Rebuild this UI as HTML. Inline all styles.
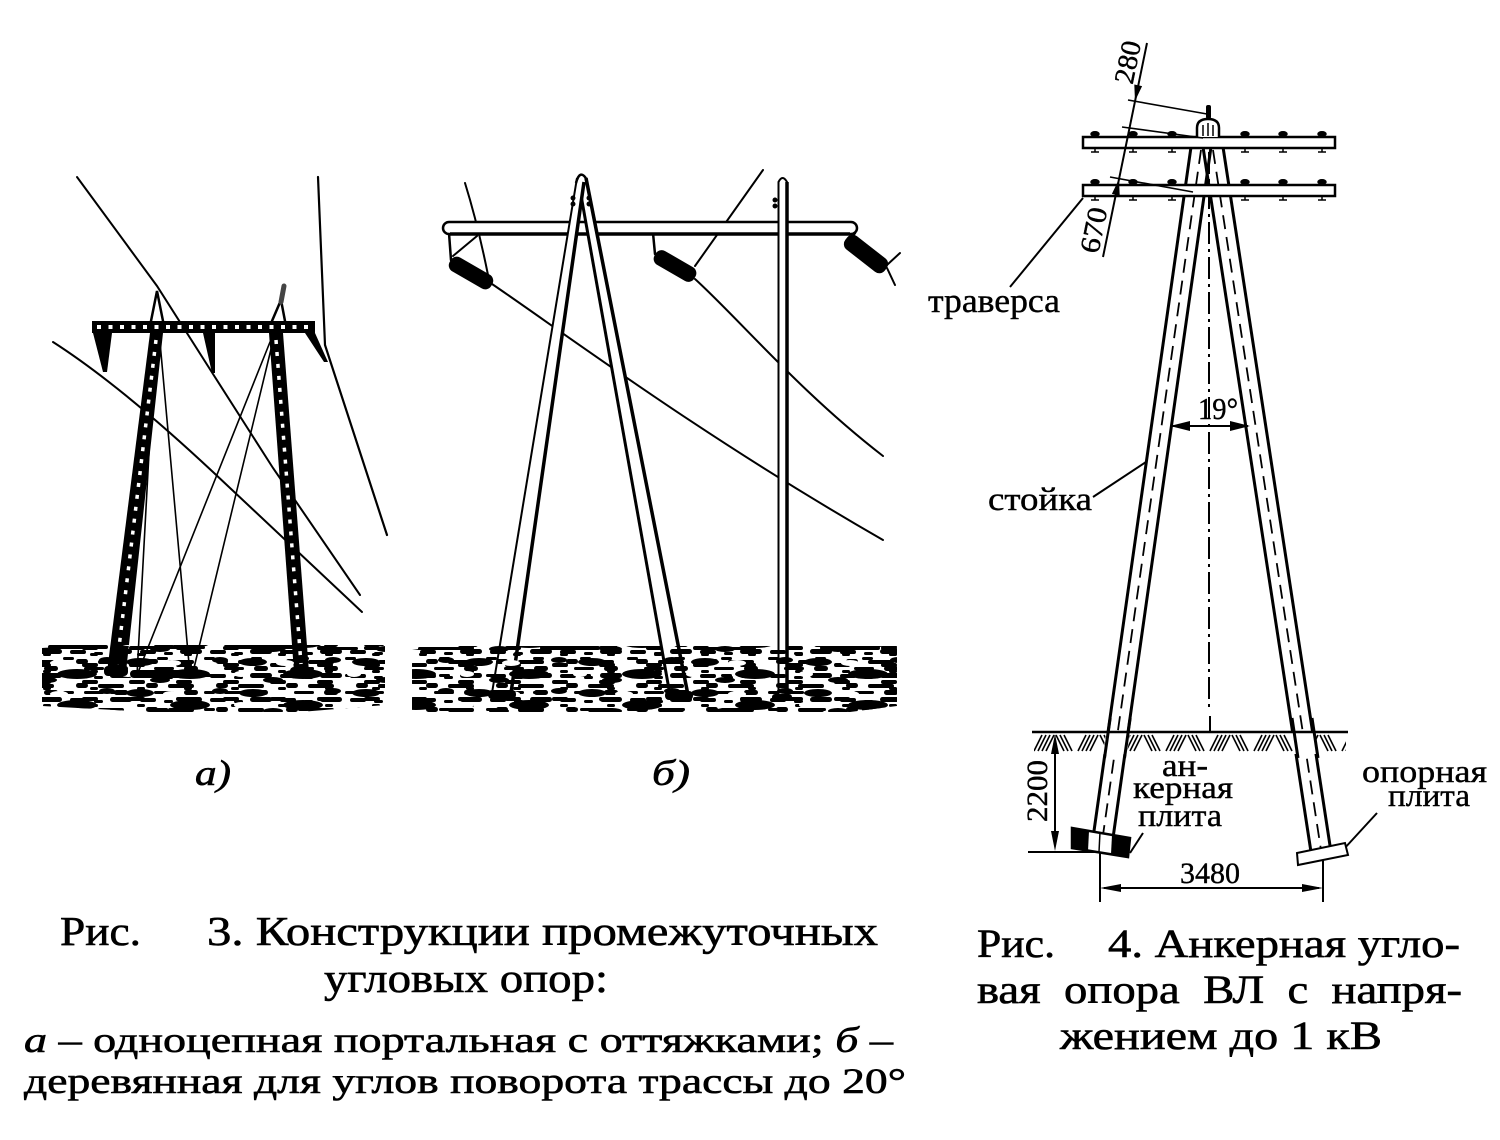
<!DOCTYPE html>
<html><head><meta charset="utf-8">
<style>
html,body{margin:0;padding:0;background:#fff;overflow:hidden}
svg{display:block}
text{font-family:"Liberation Serif","Times New Roman",serif;fill:#000}
.pre{white-space:pre}
.cap{stroke:#000;stroke-width:0.6}
.lbl{stroke:#000;stroke-width:0.4}
</style>
</head><body>
<svg xmlns="http://www.w3.org/2000/svg" width="1500" height="1140" viewBox="0 0 1500 1140">
<rect width="1500" height="1140" fill="#fff"/>
<defs>
 <pattern id="g1" width="70" height="24" patternUnits="userSpaceOnUse">
  <g fill="#000">
  <rect x="0" y="2" width="16" height="4" rx="2"/>
  <rect x="24" y="4" width="9" height="3" rx="1.5"/>
  <rect x="40" y="1" width="22" height="5" rx="2.5"/>
  <rect x="6" y="11" width="12" height="5" rx="2.5"/>
  <rect x="28" y="12" width="26" height="4" rx="2"/>
  <rect x="14" y="19" width="20" height="3" rx="1.5"/>
  <rect x="44" y="18" width="14" height="5" rx="2.5"/>
  </g>
 </pattern>
 <pattern id="g2" x="13" y="5" width="47" height="17" patternUnits="userSpaceOnUse">
  <g fill="#000">
  <rect x="3" y="6" width="11" height="3" rx="1.5"/>
  <rect x="22" y="12" width="16" height="4" rx="2"/>
  <rect x="30" y="2" width="8" height="3" rx="1.5"/>
  </g>
 </pattern>
 <pattern id="g3" x="7" y="3" width="113" height="31" patternUnits="userSpaceOnUse">
  <g fill="#000">
  <ellipse cx="20" cy="8" rx="14" ry="4"/>
  <ellipse cx="70" cy="20" rx="20" ry="5"/>
  <ellipse cx="100" cy="6" rx="8" ry="3"/>
  <ellipse cx="40" cy="26" rx="10" ry="3"/>
  </g>
  <g fill="#fff">
  <ellipse cx="52" cy="9" rx="9" ry="3"/>
  <ellipse cx="8" cy="20" rx="7" ry="3"/>
  </g>
 </pattern>
 <pattern id="hatch" x="1032" y="733" width="44" height="20" patternUnits="userSpaceOnUse">
  <g stroke="#000" stroke-width="1.6">
  <line x1="2" y1="18" x2="10" y2="2"/><line x1="6" y1="18" x2="14" y2="2"/>
  <line x1="10" y1="18" x2="18" y2="2"/><line x1="14" y1="18" x2="22" y2="2"/>
  <line x1="24" y1="2" x2="32" y2="18"/><line x1="28" y1="2" x2="36" y2="18"/>
  <line x1="32" y1="2" x2="40" y2="18"/>
  </g>
 </pattern>
 <clipPath id="ca"><polygon points="42,648 120,645 385,645 385,705 300,712 150,712 42,706"/></clipPath>
 <clipPath id="cb"><polygon points="412,650 440,646 897,646 897,706 850,712 412,712"/></clipPath>
</defs>

<!-- ================= FIGURE a ================= -->
<g stroke="#000" fill="none" stroke-linecap="round">
 <polyline points="77,177 157,286 213,374 273,468 360,595" stroke-width="2"/>
 <path d="M53,342 Q120,385 213,472 T362,612" stroke-width="2"/>
 <polyline points="318,177 325,345 387,535" stroke-width="2.2"/>
 <line x1="155" y1="342" x2="137" y2="675" stroke-width="1.6"/>
 <line x1="160" y1="342" x2="190" y2="675" stroke-width="1.6"/>
 <line x1="270" y1="342" x2="137" y2="675" stroke-width="1.6"/>
 <line x1="272" y1="345" x2="193" y2="672" stroke-width="1.6"/>
 <polyline points="151,321 157,291 163,321" stroke-width="2.5"/>
 <polyline points="272,321 281,300 285,321" stroke-width="2.5"/>
 <line x1="281" y1="302" x2="284" y2="286" stroke="#444" stroke-width="5"/>
</g>
<polygon points="150,333 163,333 126,672 107,672" fill="#000"/>
<polygon points="269,333 283,333 309,672 294,672" fill="#000"/>
<line x1="156" y1="340" x2="117" y2="664" stroke="#fff" stroke-width="3.5" stroke-dasharray="4 8"/>
<line x1="276" y1="340" x2="301" y2="664" stroke="#fff" stroke-width="3.5" stroke-dasharray="4 8"/>
<rect x="92" y="321" width="223" height="12" fill="#000"/>
<line x1="97" y1="327" x2="312" y2="327" stroke="#fff" stroke-width="4" stroke-dasharray="4 7.5"/>
<polygon points="93,333 112,333 107,372 103,372" fill="#000"/>
<polygon points="203,333 215,333 215,373 212,373" fill="#000"/>
<polygon points="305,333 315,333 328,362 324,362" fill="#000"/>
<g clip-path="url(#ca)">
 <rect x="40" y="640" width="350" height="75" fill="url(#g1)"/>
 <rect x="40" y="640" width="350" height="75" fill="url(#g2)"/>
 <rect x="40" y="640" width="350" height="75" fill="url(#g3)"/>
</g>
<g fill="#000">
 <rect x="48" y="645" width="60" height="4" rx="2"/>
 <rect x="135" y="646" width="70" height="3" rx="1.5"/>
 <rect x="232" y="645" width="65" height="4" rx="2"/>
 <rect x="318" y="647" width="40" height="3" rx="1.5"/>
 <rect x="104" y="666" width="24" height="10" rx="4"/>
 <rect x="130" y="670" width="70" height="8" rx="4"/>
 <rect x="290" y="667" width="24" height="10" rx="4"/>
</g>
<text class="cap" x="195" y="785" font-style="italic" font-size="36" textLength="36" lengthAdjust="spacingAndGlyphs">а)</text>

<!-- ================= FIGURE b ================= -->
<g stroke="#000" fill="none" stroke-linecap="round" stroke-width="2">
 <path d="M465,183 Q478,225 488,275"/>
 <line x1="453" y1="256" x2="477" y2="236"/>
 <path d="M492,284 C560,330 700,435 883,540"/>
 <line x1="695" y1="266" x2="763" y2="170"/>
 <path d="M695,279 C740,320 800,392 883,456"/>
 <line x1="887" y1="265" x2="900" y2="253"/>
 <line x1="887" y1="268" x2="895" y2="285"/>
 <line x1="449" y1="233" x2="451" y2="260" stroke-width="2.5"/>
 <line x1="653" y1="233" x2="655" y2="254" stroke-width="2.5"/>
 <line x1="855" y1="233" x2="848" y2="242" stroke-width="2.5"/>
</g>
<rect x="443" y="222" width="414" height="12" rx="6" fill="#fff" stroke="#000" stroke-width="2.5"/>
<line x1="450" y1="234" x2="850" y2="234" stroke="#000" stroke-width="3.5"/>
<rect x="-24" y="-8" width="48" height="16" rx="7" fill="#000" transform="translate(471,273) rotate(30)"/>
<rect x="-23" y="-8" width="46" height="16" rx="7" fill="#000" transform="translate(675,266) rotate(30)"/>
<rect x="-25" y="-8.5" width="50" height="17" rx="7" fill="#000" transform="translate(866,254) rotate(38)"/>
<polygon points="579,180 586,178 688,695 670,695" fill="#fff"/>
<line x1="579" y1="184" x2="670" y2="695" stroke="#000" stroke-width="3"/>
<line x1="586" y1="178" x2="688" y2="695" stroke="#000" stroke-width="3.5"/>
<polygon points="577,178 584,180 511,693 492,693" fill="#fff"/>
<line x1="577" y1="178" x2="492" y2="693" stroke="#000" stroke-width="2"/>
<line x1="584" y1="182" x2="511" y2="693" stroke="#000" stroke-width="3.5"/>
<path d="M576,183 Q580,168 587,180" fill="none" stroke="#000" stroke-width="2.5"/>
<g fill="#000">
 <circle cx="573" cy="198" r="2.5"/><circle cx="573" cy="204" r="2.5"/>
 <circle cx="589" cy="198" r="2.5"/><circle cx="589" cy="204" r="2.5"/>
 <circle cx="775" cy="200" r="2.5"/><circle cx="775" cy="206" r="2.5"/>
</g>
<path d="M778,696 V182 Q782.5,174 787,182 V696 Z" fill="#fff"/>
<path d="M778.5,696 V182 Q782.5,174 787,182 V696" fill="none" stroke="#000" stroke-width="2"/>
<line x1="787" y1="182" x2="787" y2="696" stroke="#000" stroke-width="3.5"/>
<g clip-path="url(#cb)">
 <rect x="410" y="640" width="490" height="75" fill="url(#g1)"/>
 <rect x="410" y="640" width="490" height="75" fill="url(#g2)"/>
 <rect x="410" y="640" width="490" height="75" fill="url(#g3)"/>
</g>
<g fill="#000">
 <rect x="418" y="647" width="50" height="3" rx="1.5"/>
 <rect x="540" y="646" width="60" height="4" rx="2"/>
 <rect x="700" y="647" width="55" height="3" rx="1.5"/>
 <rect x="820" y="646" width="60" height="4" rx="2"/>
 <rect x="488" y="690" width="28" height="9" rx="4"/>
 <rect x="665" y="691" width="28" height="9" rx="4"/>
 <rect x="772" y="694" width="20" height="7" rx="3"/>
</g>
<text class="cap" x="652" y="785" font-style="italic" font-size="36" textLength="38" lengthAdjust="spacingAndGlyphs">б)</text>

<!-- ================= FIGURE 4 ================= -->
<g stroke="#000" fill="none">
 <line x1="1191" y1="147" x2="1093" y2="838" stroke-width="3"/>
 <line x1="1211" y1="147" x2="1113" y2="838" stroke-width="3"/>
 <line x1="1201" y1="150" x2="1103" y2="835" stroke-width="1.8" stroke-dasharray="14 8"/>
 <line x1="1203" y1="147" x2="1311" y2="852" stroke-width="3"/>
 <line x1="1223" y1="147" x2="1331" y2="852" stroke-width="3"/>
 <line x1="1213" y1="150" x2="1321" y2="850" stroke-width="1.8" stroke-dasharray="14 8"/>
 <line x1="1209" y1="152" x2="1209" y2="712" stroke-width="2" stroke-dasharray="22 5 3 5"/>
 <line x1="1210" y1="716" x2="1210" y2="732" stroke-width="2"/>
</g>
<g fill="#000" stroke="#000" stroke-width="1.5">
 <ellipse cx="1095" cy="134" rx="4" ry="2.2"/><line x1="1091" y1="152" x2="1099" y2="152"/><line x1="1095" y1="148" x2="1095" y2="152"/>
 <ellipse cx="1133" cy="134" rx="4" ry="2.2"/><line x1="1129" y1="152" x2="1137" y2="152"/><line x1="1133" y1="148" x2="1133" y2="152"/>
 <ellipse cx="1172" cy="134" rx="4" ry="2.2"/><line x1="1168" y1="152" x2="1176" y2="152"/><line x1="1172" y1="148" x2="1172" y2="152"/>
 <ellipse cx="1245" cy="134" rx="4" ry="2.2"/><line x1="1241" y1="152" x2="1249" y2="152"/><line x1="1245" y1="148" x2="1245" y2="152"/>
 <ellipse cx="1283" cy="134" rx="4" ry="2.2"/><line x1="1279" y1="152" x2="1287" y2="152"/><line x1="1283" y1="148" x2="1283" y2="152"/>
 <ellipse cx="1322" cy="134" rx="4" ry="2.2"/><line x1="1318" y1="152" x2="1326" y2="152"/><line x1="1322" y1="148" x2="1322" y2="152"/>
 <ellipse cx="1095" cy="182" rx="4" ry="2.2"/><line x1="1091" y1="200" x2="1099" y2="200"/><line x1="1095" y1="196" x2="1095" y2="200"/>
 <ellipse cx="1133" cy="182" rx="4" ry="2.2"/><line x1="1129" y1="200" x2="1137" y2="200"/><line x1="1133" y1="196" x2="1133" y2="200"/>
 <ellipse cx="1172" cy="182" rx="4" ry="2.2"/><line x1="1168" y1="200" x2="1176" y2="200"/><line x1="1172" y1="196" x2="1172" y2="200"/>
 <ellipse cx="1245" cy="182" rx="4" ry="2.2"/><line x1="1241" y1="200" x2="1249" y2="200"/><line x1="1245" y1="196" x2="1245" y2="200"/>
 <ellipse cx="1283" cy="182" rx="4" ry="2.2"/><line x1="1279" y1="200" x2="1287" y2="200"/><line x1="1283" y1="196" x2="1283" y2="200"/>
 <ellipse cx="1322" cy="182" rx="4" ry="2.2"/><line x1="1318" y1="200" x2="1326" y2="200"/><line x1="1322" y1="196" x2="1322" y2="200"/>
</g>
<rect x="1083" y="137" width="252" height="11" fill="#fff" stroke="#000" stroke-width="2.5"/>
<rect x="1083" y="185" width="252" height="11" fill="#fff" stroke="#000" stroke-width="2.5"/>
<path d="M1197,137 V128 Q1197,119 1208,119 Q1219,119 1219,128 V137" fill="#fff" stroke="#000" stroke-width="2.5"/>
<g stroke="#000" stroke-width="1.5"><line x1="1203" y1="125" x2="1203" y2="136"/><line x1="1208" y1="123" x2="1208" y2="136"/><line x1="1213" y1="125" x2="1213" y2="136"/></g>
<rect x="1206" y="105" width="5" height="14" rx="2" fill="#000"/>
<g stroke="#000" fill="none" stroke-width="1.6">
 <line x1="1147" y1="43" x2="1103" y2="257" stroke-width="2"/>
 <line x1="1128" y1="100" x2="1207" y2="114"/>
 <line x1="1122" y1="127" x2="1203" y2="138"/>
 <line x1="1110" y1="177" x2="1193" y2="192"/>
 <line x1="1010" y1="287" x2="1083" y2="198" stroke-width="2"/>
 <line x1="1093" y1="497" x2="1146" y2="462" stroke-width="2"/>
</g>
<polygon points="1135,101 1142.1,86.1 1134.3,84.5" fill="#000"/>
<polygon points="1119,179 1119.7,195.5 1111.9,193.9" fill="#000"/>
<text class="lbl" transform="translate(1127,62) rotate(-78.4)" x="0" y="10" font-size="28" text-anchor="middle" textLength="43" lengthAdjust="spacingAndGlyphs">280</text>
<text class="lbl" transform="translate(1093,230) rotate(-78.4)" x="0" y="10" font-size="28" text-anchor="middle" textLength="46" lengthAdjust="spacingAndGlyphs">670</text>
<text class="lbl" x="928" y="312" font-size="34" textLength="132" lengthAdjust="spacingAndGlyphs">траверса</text>
<text class="lbl" x="988" y="510" font-size="33" textLength="104" lengthAdjust="spacingAndGlyphs">стойка</text>
<text class="lbl" x="1198" y="419" font-size="31" textLength="40" lengthAdjust="spacingAndGlyphs">19°</text>
<text class="lbl" x="1162" y="776" font-size="32" textLength="46" lengthAdjust="spacingAndGlyphs">ан-</text>
<text class="lbl" x="1133" y="798" font-size="32" textLength="100" lengthAdjust="spacingAndGlyphs">керная</text>
<text class="lbl" x="1138" y="826" font-size="32" textLength="84" lengthAdjust="spacingAndGlyphs">плита</text>
<text class="lbl" x="1362" y="782" font-size="32" textLength="125" lengthAdjust="spacingAndGlyphs">опорная</text>
<text class="lbl" x="1388" y="806" font-size="32" textLength="82" lengthAdjust="spacingAndGlyphs">плита</text>
<text class="lbl" x="1180" y="883" font-size="30" textLength="60" lengthAdjust="spacingAndGlyphs">3480</text>
<text class="lbl" transform="translate(1037,791) rotate(-90)" x="0" y="10" font-size="30" text-anchor="middle" textLength="62" lengthAdjust="spacingAndGlyphs">2200</text>
<line x1="1172" y1="426" x2="1248" y2="426" stroke="#000" stroke-width="2"/>
<polygon points="1170,426 1190,421 1190,431" fill="#000"/>
<polygon points="1250,426 1230,421 1230,431" fill="#000"/>
<rect x="1034" y="734" width="312" height="19" fill="url(#hatch)"/>
<polygon points="1106,733 1130,733 1127,754 1103,754" fill="#fff"/>
<polygon points="1291,733 1315,733 1318,754 1294,754" fill="#fff"/>
<line x1="1032" y1="732" x2="1348" y2="732" stroke="#000" stroke-width="2.5"/>
<g stroke="#000" stroke-width="3">
 <line x1="1110.2" y1="718" x2="1104.5" y2="758"/>
 <line x1="1130.2" y1="718" x2="1124.5" y2="758"/>
 <line x1="1292" y1="718" x2="1298" y2="758"/>
 <line x1="1312" y1="718" x2="1318" y2="758"/>
</g>
<g stroke="#000" stroke-width="2" fill="none">
 <line x1="1055" y1="740" x2="1055" y2="846"/>
 <line x1="1028" y1="852" x2="1100" y2="852"/>
 <line x1="1100" y1="852" x2="1100" y2="902"/>
 <line x1="1323" y1="856" x2="1323" y2="902"/>
 <line x1="1104" y1="888" x2="1319" y2="888"/>
 <line x1="1143" y1="833" x2="1130" y2="853"/>
 <line x1="1377" y1="813" x2="1343" y2="850"/>
</g>
<polygon points="1055,734 1051,754 1059,754" fill="#000"/>
<polygon points="1055,851 1051,831 1059,831" fill="#000"/>
<polygon points="1100,888 1121,884 1121,892" fill="#000"/>
<polygon points="1323,888 1302,884 1302,892" fill="#000"/>
<!-- anchor plate -->
<polygon points="1072,828 1130,838 1128,857 1072,848" fill="#fff" stroke="#000" stroke-width="2.5"/>
<polygon points="1072,828 1089,831 1088,851 1072,848" fill="#000"/>
<polygon points="1112,835 1130,838 1128,857 1111,854" fill="#000"/>
<line x1="1100" y1="832" x2="1099" y2="852" stroke="#000" stroke-width="1.5"/>
<polygon points="1297,853 1345,843 1348,855 1298,865" fill="#fff" stroke="#000" stroke-width="2"/>

<!-- ================= CAPTIONS ================= -->
<text class="cap" x="60" y="945" font-size="41" textLength="81" lengthAdjust="spacingAndGlyphs">Рис.</text>
<text class="cap" x="207" y="945" font-size="41" textLength="671" lengthAdjust="spacingAndGlyphs">3. Конструкции промежуточных</text>
<text class="cap" x="324" y="992" font-size="41" textLength="284" lengthAdjust="spacingAndGlyphs">угловых опор:</text>
<text class="cap" x="24" y="1052" font-size="36" textLength="869" lengthAdjust="spacingAndGlyphs"><tspan font-style="italic">а</tspan> – одноцепная портальная с оттяжками; <tspan font-style="italic">б</tspan> –</text>
<text class="cap" x="24" y="1093" font-size="36" textLength="882" lengthAdjust="spacingAndGlyphs">деревянная для углов поворота трассы до 20°</text>

<text class="cap" x="977" y="957" font-size="40" textLength="78" lengthAdjust="spacingAndGlyphs">Рис.</text>
<text class="cap" x="1108" y="957" font-size="40" textLength="352" lengthAdjust="spacingAndGlyphs">4. Анкерная угло-</text>
<text class="cap pre" x="977" y="1003" font-size="40" textLength="485" lengthAdjust="spacingAndGlyphs">вая  опора  ВЛ  с  напря-</text>
<text class="cap" x="1060" y="1049" font-size="40" textLength="322" lengthAdjust="spacingAndGlyphs">жением до 1 кВ</text>
</svg>
</body></html>
